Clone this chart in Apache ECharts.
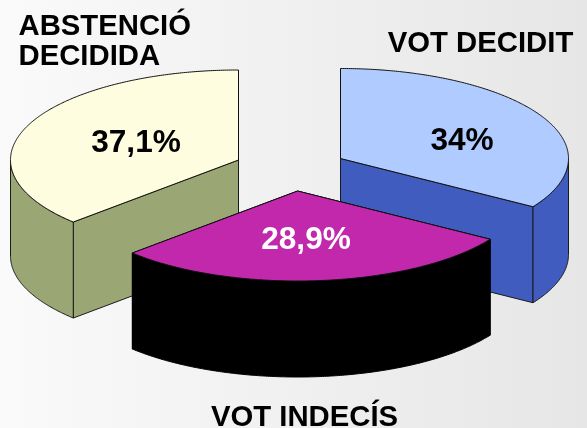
<!DOCTYPE html>
<html>
<head>
<meta charset="utf-8">
<style>html,body{margin:0;padding:0;width:100%;height:100%;overflow:hidden}#c{width:587px;height:428px}</style>
<script src="https://cdn.jsdelivr.net/npm/echarts@6/dist/echarts.min.js"></script>
</head>
<body>
<div id="c"></div>
<script>
const categories = ['ABSTENCIÓ\nDECIDIDA', 'VOT DECIDIT', 'VOT INDECÍS'];
const values = [37.1, 34, 28.9];
const valueLabels = ['37,1%', '34%', '28,9%'];

const topColors = ['#FEFDE0', '#AFCBFF', '#C228AC'];
const wallColors = ['#9BA675', '#3F5CBE', '#000000'];
const valueTextColors = ['#000000', '#000000', '#FFFFFF'];
const apexes = [[238.5, 160], [340.5, 158.5], [297.6, 191]];
const valuePos = [[136, 143], [462, 141], [306, 240]];
const namePos = [[18.5, 41.5, 'left'], [480.5, 43.5, 'center'], [304.5, 418, 'center']];
const RX = 228, RY = 90, DEPTH = 96;

const DEG = Math.PI / 180;
const startAngle = -values[0] / 100 * 360;

function rim(c, t, dy) {
  return [c[0] + RX * Math.sin(t * DEG), c[1] - RY * Math.cos(t * DEG) + (dy || 0)];
}
function arc(c, a, b, dy) {
  const pts = [], n = Math.max(2, Math.ceil(Math.abs(b - a) * 2));
  for (let i = 0; i <= n; i++) pts.push(rim(c, a + (b - a) * i / n, dy));
  return pts;
}
function poly(points, fill, stroke, z) {
  return {
    type: 'polygon',
    z2: z,
    shape: { points },
    style: { fill, stroke, lineWidth: 1, lineJoin: 'round' }
  };
}
function txt(x, y, text, fill, size, align) {
  return {
    type: 'text',
    z2: 50,
    x, y,
    style: {
      text, fill,
      font: 'bold ' + size + 'px "Liberation Sans", Arial, sans-serif',
      lineHeight: 30,
      align, verticalAlign: 'middle'
    }
  };
}

function renderItem(params, api) {
  const i = params.dataIndex;
  const before = values.slice(0, i).reduce((s, v) => s + v, 0);
  const a0 = startAngle + before / 100 * 360;
  const a1 = a0 + api.value(0) / 100 * 360;
  const c = apexes[i];
  const wall = wallColors[i];
  const edge = i === 2 ? '#000000' : '#1a1a1a';
  const children = [];
  // radial cut faces that turn towards the viewer
  [a0, a1].forEach(t => {
    if (Math.cos(t * DEG) < 0) {
      const p = rim(c, t);
      children.push(poly([c, p, [p[0], p[1] + DEPTH], [c[0], c[1] + DEPTH]], wall, edge, 1));
    }
  });
  // outer wall: only the front half of the rim
  for (let k = -1; k <= 1; k++) {
    const lo = Math.max(a0, 90 + 360 * k), hi = Math.min(a1, 270 + 360 * k);
    if (lo < hi) {
      const upper = arc(c, lo, hi, 0);
      const lower = arc(c, hi, lo, DEPTH);
      children.push(poly(upper.concat(lower), wall, edge, 2));
    }
  }
  // top face
  children.push(poly([c].concat(arc(c, a0, a1, 0)), topColors[i], '#111111', 3));
  children.push(txt(valuePos[i][0], valuePos[i][1], valueLabels[i], valueTextColors[i], 31.6, 'center'));
  children.push(txt(namePos[i][0], namePos[i][1], categories[i], '#000000', 29.3, namePos[i][2]));
  return { type: 'group', children };
}

const chart = echarts.init(document.getElementById('c'), null, { renderer: 'canvas' });
chart.setOption({
  animation: false,
  backgroundColor: {
    type: 'linear', x: 0, y: 0, x2: 1, y2: 0,
    colorStops: [{ offset: 0, color: '#FAFAFA' }, { offset: 1, color: '#E6E6E6' }]
  },
  series: [{
    type: 'custom',
    coordinateSystem: 'none',
    silent: true,
    renderItem,
    data: values.map(v => [v])
  }]
});
</script>
</body>
</html>
